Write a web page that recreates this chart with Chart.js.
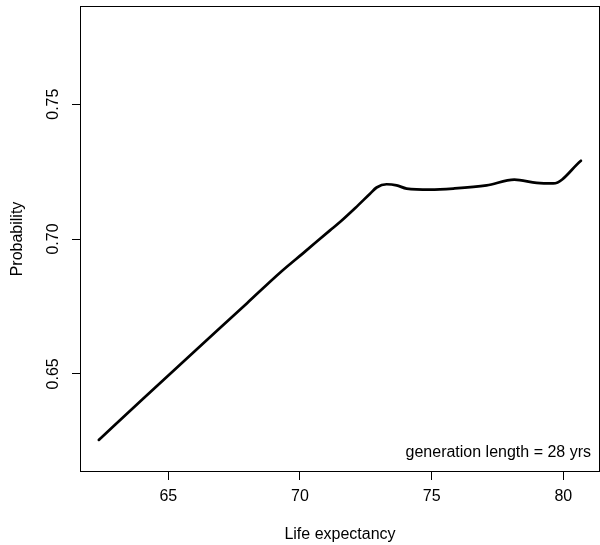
<!DOCTYPE html>
<html>
<head>
<meta charset="utf-8">
<script src="https://cdn.jsdelivr.net/npm/chart.js@4.4.0/dist/chart.umd.min.js"></script>
<style>
html, body { margin: 0; padding: 0; background: #fff; }
#wrap { width: 600px; height: 545px; }
</style>
</head>
<body>
<div id="wrap"><canvas id="chart" width="600" height="545"></canvas></div>
<script>
// values
const lifeExpectancy = [62.36, 64.0, 66.0, 68.0, 69.24, 70.2, 71.14, 71.52, 72.1, 72.66, 72.91, 73.29, 73.67, 74.05, 74.94, 75.82, 77.09, 78.14, 78.99, 79.62, 80.67];
const probability    = [0.6255, 0.6404, 0.6584, 0.6763, 0.6875, 0.6954, 0.7032, 0.7063, 0.7115, 0.7168, 0.7191, 0.7203, 0.7199, 0.7187, 0.7183, 0.7187, 0.7199, 0.7220, 0.7208, 0.7206, 0.7290];

const xTicks = [65, 70, 75, 80];
const yTicks = [0.65, 0.70, 0.75];
// R-style 4% padding around the data range (x) and ylim = 0.62..0.78
const xRange = [61.646, 81.394];
const yRange = [0.6136, 0.7864];
const noteText = "generation length = 28 yrs";

const FONT = '"Liberation Sans", Arial, Helvetica, sans-serif';
Chart.defaults.font.family = FONT;
Chart.defaults.font.size = 16;
Chart.defaults.color = "#000";

// plot frame + the bottom-right note
const framePlugin = {
  id: "frame",
  afterDatasetsDraw(chart){
    const {ctx, chartArea: a} = chart;
    ctx.save();
    ctx.strokeStyle = "#000";
    ctx.lineWidth = 1;
    ctx.strokeRect(a.left + 0.5, a.top + 0.5, a.right - a.left - 1, a.bottom - a.top - 1);
    ctx.font = "16px " + FONT;
    ctx.fillStyle = "#000";
    ctx.textAlign = "right";
    ctx.textBaseline = "alphabetic";
    ctx.fillText(noteText, a.right - 9, a.bottom - 15);
    ctx.restore();
  }
};

new Chart(document.getElementById("chart").getContext("2d"), {
  type: "line",
  data: {
    datasets: [{
      data: lifeExpectancy.map((x, i) => ({x, y: probability[i]})),
      borderColor: "#000",
      borderWidth: 2.7,
      pointRadius: 0,
      fill: false,
      cubicInterpolationMode: "monotone",
      borderCapStyle: "round",
      borderJoinStyle: "round"
    }]
  },
  options: {
    responsive: false,
    animation: false,
    devicePixelRatio: 1,
    layout: { padding: {top: 6, right: 0, bottom: 0, left: 0} },
    plugins: { legend: {display: false}, tooltip: {enabled: false} },
    scales: {
      x: {
        type: "linear",
        min: xRange[0], max: xRange[1],
        afterBuildTicks: s => { s.ticks = xTicks.map(v => ({value: v})); },
        afterFit: s => { s.height = 73; s.paddingLeft = 0; s.paddingRight = 0; },
        border: {display: false},
        grid: {drawOnChartArea: false, drawTicks: true, tickLength: 8, color: "#000", lineWidth: 1},
        ticks: {padding: 7, maxRotation: 0, autoSkip: false, callback: v => String(v)},
        title: {display: true, text: "Life expectancy", padding: {top: 0, bottom: 1}}
      },
      y: {
        min: yRange[0], max: yRange[1],
        afterBuildTicks: s => { s.ticks = yTicks.map(v => ({value: v})); },
        afterFit: s => { s.width = 80; s.paddingTop = 0; s.paddingBottom = 0; },
        border: {display: false},
        grid: {drawOnChartArea: false, drawTicks: true, tickLength: 8, color: "#000", lineWidth: 1},
        ticks: {minRotation: 90, maxRotation: 90, crossAlign: "center", padding: 3, autoSkip: false,
                callback: v => v.toFixed(2)},
        title: {display: true, text: "Probability", padding: {top: 8}}
      }
    }
  },
  plugins: [framePlugin]
});
</script>
</body>
</html>
